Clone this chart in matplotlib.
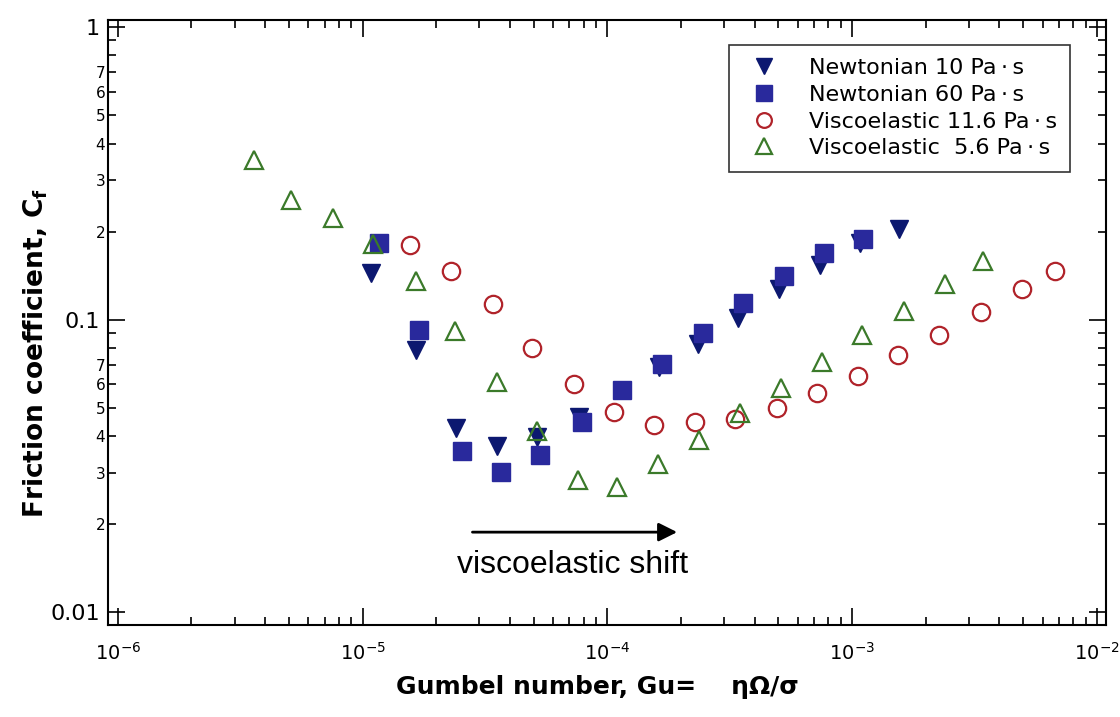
import numpy as np
import matplotlib
matplotlib.use("Agg")
from matplotlib import pyplot as plt
from matplotlib.ticker import LogLocator, FuncFormatter, NullFormatter

# Newtonian 10 Pa.s
newt10_gu = [1.08e-5, 1.65e-5, 2.40e-5, 3.54e-5, 5.15e-5, 7.65e-5, 1.62e-4, 2.34e-4,
             3.41e-4, 5.02e-4, 7.38e-4, 1.076e-3, 1.55e-3]
newt10_cf = [0.144, 0.079, 0.0426, 0.0369, 0.0397, 0.0464, 0.0688, 0.0825,
             0.101, 0.127, 0.154, 0.183, 0.204]

# Newtonian 60 Pa.s
newt60_gu = [1.165e-5, 1.70e-5, 2.54e-5, 3.67e-5, 5.30e-5, 7.87e-5, 1.146e-4, 1.67e-4,
             2.45e-4, 3.58e-4, 5.26e-4, 7.66e-4, 1.107e-3]
newt60_cf = [0.183, 0.092, 0.0355, 0.0301, 0.0344, 0.0446, 0.0574, 0.0705,
             0.090, 0.114, 0.141, 0.169, 0.188]

# Viscoelastic 11.6 Pa.s
ve116_gu = [1.57e-5, 2.29e-5, 3.40e-5, 4.91e-5, 7.29e-5, 1.063e-4, 1.55e-4, 2.28e-4,
            3.32e-4, 4.93e-4, 7.18e-4, 1.056e-3, 1.54e-3, 2.26e-3, 3.36e-3, 4.94e-3, 6.74e-3]
ve116_cf = [0.180, 0.1465, 0.113, 0.080, 0.060, 0.0483, 0.0436, 0.0446,
            0.0457, 0.0498, 0.0561, 0.0641, 0.0756, 0.0885, 0.106, 0.127, 0.1465]

# Viscoelastic 5.6 Pa.s
ve56_gu = [3.60e-6, 5.09e-6, 7.56e-6, 1.10e-5, 1.65e-5, 2.38e-5, 3.54e-5, 5.15e-5,
           7.58e-5, 1.10e-4, 1.61e-4, 2.37e-4, 3.48e-4, 5.12e-4, 7.52e-4, 1.096e-3,
           1.63e-3, 2.39e-3, 3.42e-3]
ve56_cf = [0.351, 0.256, 0.222, 0.181, 0.135, 0.0913, 0.0611, 0.0416,
           0.0283, 0.0268, 0.0321, 0.0387, 0.0479, 0.0583, 0.0716, 0.0885,
           0.107, 0.132, 0.158]

plt.rcParams['font.family'] = ['DejaVu Sans']

fig = plt.figure(figsize=(11.2, 7.17), dpi=100)
ax = fig.add_axes([0.0964, 0.1283, 0.891, 0.8437])

ax.plot(newt10_gu, newt10_cf, linestyle='none', marker='v', markersize=13,
        color='#0c1870', label="Newtonian 10 Pa\u2009\u00b7\u2009s")
ax.plot(newt60_gu, newt60_cf, linestyle='none', marker='s', markersize=13,
        color='#29299c', label="Newtonian 60 Pa\u2009\u00b7\u2009s")
ax.plot(ve116_gu, ve116_cf, linestyle='none', marker='o', markersize=12.5,
        markerfacecolor='none', markeredgecolor='#b0232a', markeredgewidth=1.6,
        label="Viscoelastic 11.6 Pa\u2009\u00b7\u2009s")
ax.plot(ve56_gu, ve56_cf, linestyle='none', marker='^', markersize=13,
        markerfacecolor='none', markeredgecolor='#3b7a2a', markeredgewidth=1.6,
        label="Viscoelastic  5.6 Pa\u2009\u00b7\u2009s")

ax.set_xscale('log')
ax.set_yscale('log')
ax.set_xlim(10**-6.04, 10**-1.963)
ax.set_ylim(0.00903, 1.057)

ax.xaxis.set_major_locator(LogLocator(base=10, numticks=10))
ax.xaxis.set_minor_locator(LogLocator(base=10, subs=np.arange(2, 10), numticks=20))
ax.xaxis.set_minor_formatter(NullFormatter())
ax.xaxis.set_major_formatter(FuncFormatter(lambda v, p: r'$10^{%d}$' % round(np.log10(v))))

ax.yaxis.set_major_locator(LogLocator(base=10, numticks=10))
ax.yaxis.set_minor_locator(LogLocator(base=10, subs=np.arange(2, 10), numticks=20))


def major_y(v, p):
    if v >= 1:
        return '1'
    return '%g' % v


def minor_y(v, p):
    d = int(round(v / 10 ** np.floor(np.log10(v) + 1e-9)))
    if 2 <= d <= 7:
        return str(d)
    return ''


ax.yaxis.set_major_formatter(FuncFormatter(major_y))
ax.yaxis.set_minor_formatter(FuncFormatter(minor_y))

ax.tick_params(which='both', direction='in', top=True, right=True, width=1.2)
ax.tick_params(which='major', length=12, pad=8)
ax.tick_params(which='minor', length=6)
ax.tick_params(axis='x', which='major', labelsize=14, pad=12)
ax.tick_params(axis='y', which='major', labelsize=16, pad=6)
ax.tick_params(axis='y', which='minor', labelsize=11, pad=2)
for s in ax.spines.values():
    s.set_linewidth(1.5)

ax.set_xlabel("Gumbel number, Gu=    \u03b7\u03a9/\u03c3", fontsize=18, fontweight='bold')
ax.xaxis.set_label_coords(0.49, -0.083)
ax.set_ylabel(r"Friction coefficient, C$_\mathbf{f}$", fontsize=19, fontweight='bold')
ax.yaxis.set_label_coords(-0.058, 0.45)

ax.annotate("", xy=(1.98e-4, 0.01876), xytext=(2.74e-5, 0.01876),
            arrowprops=dict(arrowstyle='-|>', color='black', lw=2.0, mutation_scale=28))
ax.text(7.23e-5, 0.01448, "viscoelastic shift", fontsize=23, family='Liberation Sans',
        ha='center', va='center')

leg = ax.legend(loc='upper right', bbox_to_anchor=(0.964, 0.959), borderaxespad=0,
                fontsize=16, frameon=True, fancybox=False, edgecolor='black',
                handletextpad=1.0, borderpad=0.6, labelspacing=0.3, markerscale=0.85)
leg.get_frame().set_linewidth(1.2)

plt.savefig("out.png", dpi=100)
